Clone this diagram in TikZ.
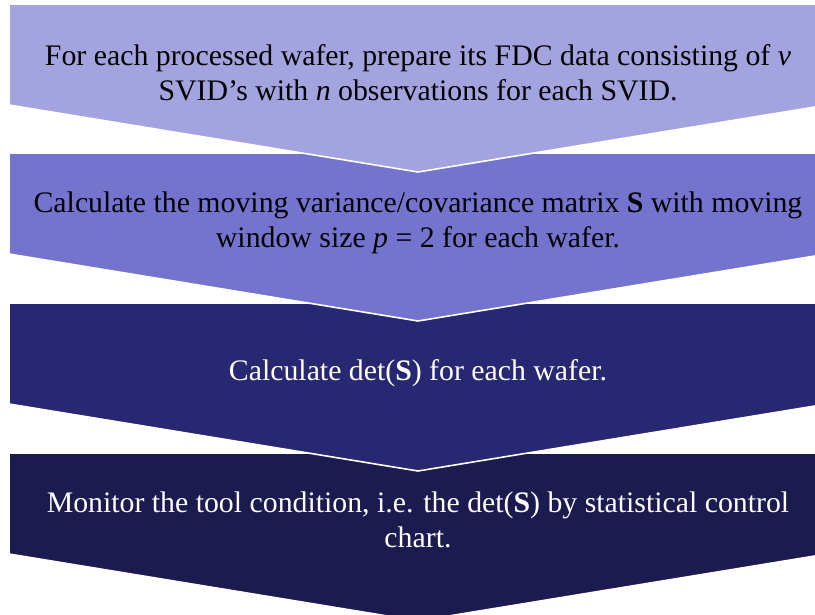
\documentclass[tikz,border=0pt]{standalone}
\usepackage{fontspec}
\setmainfont{Liberation Serif}
\usetikzlibrary{positioning}
\definecolor{stepone}{RGB}{163,163,223}
\definecolor{steptwo}{RGB}{116,116,206}
\definecolor{stepthree}{RGB}{40,39,113}
\definecolor{stepfour}{RGB}{28,27,79}
\tikzset{
  chevron/.style={fill=#1, draw=white, line width=1.6pt},
  steptext/.style={align=center, font=\fontsize{29.8}{35}\selectfont, inner sep=0pt}
}

\begin{document}
\begin{tikzpicture}[x=1pt,y=-1pt]
\useasboundingbox (0,0) rectangle (815,614);
% chevrons, bottom one first so each tip lies on the next
\foreach \t/\c in {453/stepfour,303/stepthree,153/steptwo,4/stepone}
  \draw[chevron=\c] (9,\t) -- (827,\t) -- (827,\t+101) -- (418,\t+168) -- (9,\t+101) -- cycle;
\node[steptext] (prep) at (418,73) {For each processed wafer, prepare its FDC data consisting of \textit{v}\\SVID’s with \textit{n} observations for each SVID.};
\node[steptext] (movcov) at (418,223) {Calculate the moving variance/covariance matrix \textbf{S} with moving\\window size \textit{p} = 2 for each wafer.};
\node[steptext, white] (detS) at (418,373) {Calculate det(\textbf{S}) for each wafer.};
\node[steptext, white] (monitor) at (418,520) {Monitor the tool condition, i.e. the det(\textbf{S}) by statistical control\\chart.};
\end{tikzpicture}
\end{document}
